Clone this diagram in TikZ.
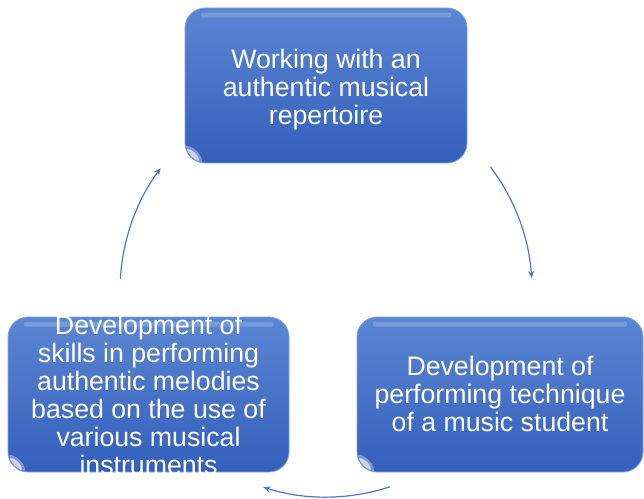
\documentclass[tikz,border=0pt]{standalone}
\usepackage{fontspec}
\setmainfont{Liberation Sans}
\usetikzlibrary{arrows.meta}
\definecolor{boxtop}{HTML}{5B86D2}
\definecolor{boxbot}{HTML}{345FBC}
\definecolor{boxedge}{HTML}{7FA2E2}
\definecolor{arrowc}{HTML}{4A77CC}
\tikzset{
  cyclebox/.style={rounded corners=20pt, top color=boxtop, bottom color=boxbot,
    draw=boxedge, line width=0.8pt, minimum height=155pt, inner sep=0pt},
  boxtext/.style={text=white, align=center, inner sep=0pt,
    font=\fontsize{26.7}{28}\selectfont},
  cyclearrow/.style={draw=arrowc, line width=1.2pt, -{Stealth[length=7pt,width=6pt]}},
  gloss/.style={fill=white, opacity=0.18, rounded corners=2.5pt},
}
\newcommand{\boxgloss}[1]{%
  \fill[gloss] ([xshift=16pt,yshift=-5pt]#1.north west) rectangle ([xshift=-16pt,yshift=-10pt]#1.north east);
  \begin{scope}
  \clip[rounded corners=20pt] ([shift={(1pt,1pt)}]#1.south west) rectangle ([shift={(-1pt,-1pt)}]#1.north east);
  \fill[white, opacity=0.35] ([shift={(8pt,8pt)}]#1.south west) circle[x radius=12pt, y radius=6pt, rotate=-45];
  \fill[white, opacity=0.6] ([shift={(8pt,8pt)}]#1.south west) circle[x radius=8pt, y radius=3.5pt, rotate=-45];
  \end{scope}
}
\begin{document}
\begin{tikzpicture}
\path[use as bounding box] (0pt,0pt) rectangle (644pt,498pt);
\node[cyclebox, minimum width=282pt] (top) at (326pt,412.5pt) {};
\node[cyclebox, minimum width=286pt] (right) at (500pt,103.5pt) {};
\node[cyclebox, minimum width=281pt] (left) at (148.5pt,103.5pt) {};
\boxgloss{top}
\boxgloss{right}
\boxgloss{left}
\node[boxtext] (toptext) at ([yshift=-4pt]top.center)
  {Working with an\\authentic musical\\repertoire};
\node[boxtext] (righttext) at ([yshift=1pt]right.center)
  {Development of\\performing technique\\of a music student};
\node[boxtext] (lefttext) at (left.center)
  {Development of\\skills in performing\\authentic melodies\\based on the use of\\various musical\\instruments};
\coordinate (c) at (326pt,207pt);
\draw[cyclearrow] ([shift={(37.1:206pt)}]c) arc[start angle=37.1, end angle=3.6, radius=206pt];
\draw[cyclearrow] ([shift={(-71.9:206pt)}]c) arc[start angle=-71.9, end angle=-107.7, radius=206pt];
\draw[cyclearrow] ([shift={(176.6:206pt)}]c) arc[start angle=176.6, end angle=143.4, radius=206pt];
\end{tikzpicture}
\end{document}
